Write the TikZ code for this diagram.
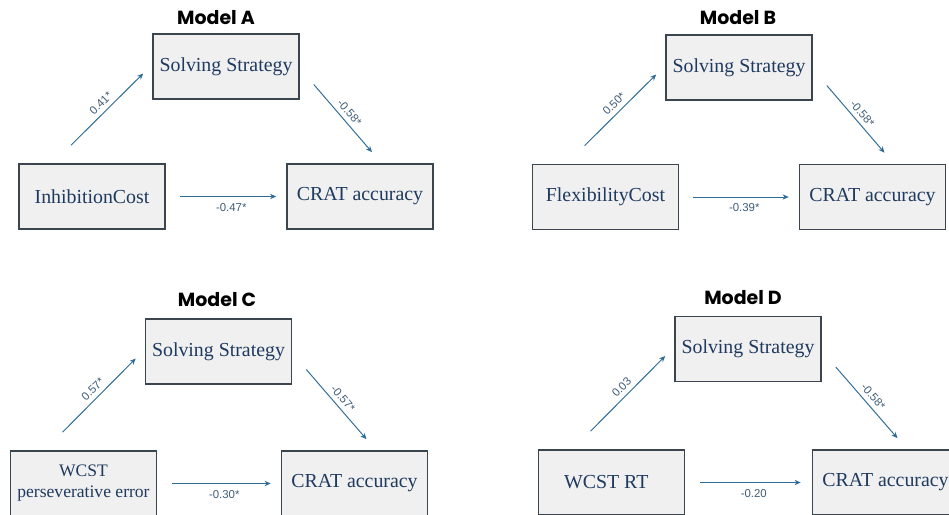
\documentclass[tikz,border=0pt]{standalone}
\usepackage{fontspec}
\setmainfont{Liberation Serif}
\newfontfamily\titlefont{Poppins}
\newfontfamily\coeffont{Liberation Sans}
\usetikzlibrary{arrows.meta}
\definecolor{boxtext}{HTML}{1F3A5F}
\definecolor{boxline}{HTML}{3A4550}
\definecolor{boxfill}{HTML}{F0F0F0}
\definecolor{arrowc}{HTML}{2E6B96}
\definecolor{labelc}{HTML}{3E5C78}
\tikzset{
  varbox/.style={draw=boxline, fill=boxfill, line width=0.9pt, minimum width=2.92cm, minimum height=1.3cm,
    text=boxtext, align=center, font=\fontsize{11.3}{13}\selectfont},
  modeltitle/.style={font=\titlefont\bfseries\fontsize{10.8}{12}\selectfont},
  patharrow/.style={draw=arrowc, line width=0.55pt, -{Stealth[length=3.5pt,width=3pt]}},
  coef/.style={font=\coeffont\fontsize{6.5}{7}\selectfont, text=labelc, inner sep=2.5pt},
  coefbelow/.style={coef, below, inner sep=3.5pt},
}
\begin{document}
\begin{tikzpicture}[x=0.02cm,y=-0.02cm]
    \useasboundingbox (0,0) rectangle (949,514);
    \clip (0,0) rectangle (949,514);

    %model A
    \node[modeltitle] (tA) at (216,18) {Model A};
    \node[varbox] (ssA) at (226,66.5) {Solving Strategy};
    \node[varbox] (icA) at (92,196.5) {InhibitionCost};
    \node[varbox] (crA) at (360,196.5) {CRAT accuracy};
    \draw[patharrow]([shift={(-21,-18)}]icA.north) -- node[coef,above,sloped]{0.41*} ([shift={(-9,7)}]ssA.west);
    \draw[patharrow]([shift={(14,18)}]ssA.east) -- node[coef,above,sloped]{-0.58*} ([shift={(12,-11)}]crA.north);
    \draw[patharrow,shorten <=0.28cm,shorten >=0.2cm](icA.east) -- node[coefbelow,xshift=3pt]{-0.47*} (crA.west);

    %model B
    \node[modeltitle] (tB) at (738,18) {Model B};
    \node[varbox] (ssB) at (739,67.5) {Solving Strategy};
    \node[varbox] (fcB) at (605.5,197) {FlexibilityCost};
    \node[varbox] (crB) at (872.5,197) {CRAT accuracy};
    \draw[patharrow]([shift={(-21,-18)}]fcB.north) -- node[coef,above,sloped]{0.50*} ([shift={(-9,7)}]ssB.west);
    \draw[patharrow]([shift={(14,18)}]ssB.east) -- node[coef,above,sloped]{-0.58*} ([shift={(12,-11)}]crB.north);
    \draw[patharrow,shorten <=0.28cm,shorten >=0.2cm](fcB.east) -- node[coefbelow,xshift=3pt]{-0.39*} (crB.west);

    %model C
    \node[modeltitle] (tC) at (217,300) {Model C};
    \node[varbox] (ssC) at (218.5,351.5) {Solving Strategy};
    \node[varbox,font=\fontsize{10}{12}\selectfont] (wcC) at (83.5,483.5) {WCST\\perseverative error};
    \node[varbox] (crC) at (354.5,483.5) {CRAT accuracy};
    \draw[patharrow]([shift={(-21,-18)}]wcC.north) -- node[coef,above,sloped]{0.57*} ([shift={(-9,7)}]ssC.west);
    \draw[patharrow]([shift={(14,18)}]ssC.east) -- node[coef,above,sloped]{-0.57*} ([shift={(12,-11)}]crC.north);
    \draw[patharrow,shorten <=0.3cm,shorten >=0.2cm](wcC.east) -- node[coefbelow,xshift=3pt]{-0.30*} (crC.west);

    %model D
    \node[modeltitle] (tD) at (743,298) {Model D};
    \node[varbox] (ssD) at (748,349) {Solving Strategy};
    \node[varbox] (wrD) at (611.5,482.5) {WCST RT\hspace{6pt}};
    \node[varbox] (crD) at (885.5,482.5) {CRAT accuracy};
    \draw[patharrow]([shift={(-21,-18)}]wrD.north) -- node[coef,above,sloped]{0.03} ([shift={(-9,7)}]ssD.west);
    \draw[patharrow]([shift={(14,18)}]ssD.east) -- node[coef,above,sloped]{-0.58*} ([shift={(12,-11)}]crD.north);
    \draw[patharrow,shorten <=0.3cm,shorten >=0.22cm](wrD.east) -- node[coefbelow,xshift=3pt]{-0.20} (crD.west);
\end{tikzpicture}
\end{document}
